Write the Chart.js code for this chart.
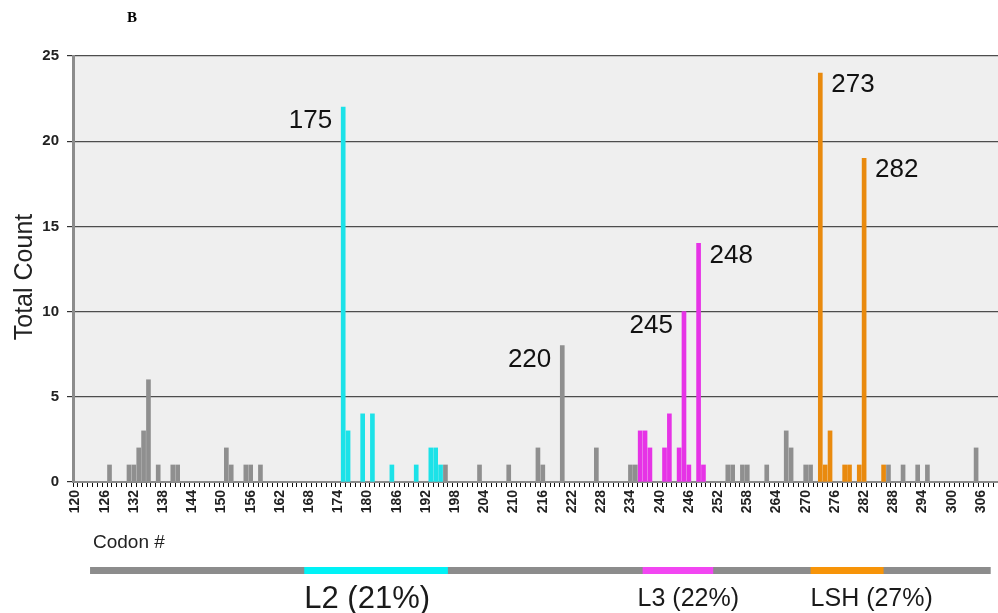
<!DOCTYPE html>
<html>
<head>
<meta charset="utf-8">
<script src="https://cdn.jsdelivr.net/npm/chart.js@4.4.0/dist/chart.umd.min.js"></script>
<style>
  html, body { margin: 0; padding: 0; background: #ffffff; }
  #wrap { width: 998px; height: 613px; position: relative; }
</style>
</head>
<body>
<div id="wrap"><canvas id="chart" width="998" height="613"></canvas></div>
<script>
// Codon range on the x axis and label step
const firstCodon = 120;
const lastCodon = 309;
const tickStep = 6;

// Mutation counts per codon, grouped by structural region
const otherCodons = [127, 131, 132, 133, 134, 135, 137, 140, 141, 151, 152, 155, 156, 158, 196, 203, 209, 215, 216, 220, 227, 234, 235, 254, 255, 257, 258, 262, 266, 267, 270, 271, 287, 290, 293, 295, 305];
const otherCounts = [1, 1, 1, 2, 3, 6, 1, 1, 1, 2, 1, 1, 1, 1, 1, 1, 1, 2, 1, 8, 2, 1, 1, 1, 1, 1, 1, 1, 3, 2, 1, 1, 1, 1, 1, 1, 2];

const l2Codons = [175, 176, 179, 181, 185, 190, 193, 194, 195];
const l2Counts = [22, 3, 4, 4, 1, 1, 2, 2, 1];

const l3Codons = [236, 237, 238, 241, 242, 244, 245, 246, 248, 249];
const l3Counts = [3, 3, 2, 2, 4, 2, 10, 1, 14, 1];

const lshCodons = [273, 274, 275, 278, 279, 281, 282, 286];
const lshCounts = [24, 1, 3, 1, 1, 1, 19, 1];

// Hotspot codons annotated on the plot, and which side the number sits on
const labeledCodons = [175, 220, 245, 248, 273, 282];
const labelSides = ['left', 'left', 'left', 'right', 'right', 'right'];

// Domain map drawn under the axis
const spanStart = 123;
const spanEnd = 308;
const regionNames = ['L2 (21%)', 'L3 (22%)', 'LSH (27%)'];
const regionStarts = [167, 236.5, 271];
const regionEnds = [196.5, 251, 286];
const regionFontSizes = [31, 25, 25];

const yMax = 25;
const yStep = 5;

const colors = {
  other: '#8f8f8f',
  l2: '#1ce2e8',
  l3: '#e633e6',
  lsh: '#e98a0e',
  span: '#8c8c8c',
  l2Band: '#00f2f6',
  l3Band: '#f246f2',
  lshBand: '#f79408'
};
const regionColors = [colors.l2Band, colors.l3Band, colors.lshBand];

const categories = [];
for (let c = firstCodon; c <= lastCodon; c++) categories.push(String(c));

function toSeries(codons, counts) {
  const arr = categories.map(() => null);
  codons.forEach((c, i) => { arr[c - firstCodon] = counts[i]; });
  return arr;
}

const sansFamily = "'Liberation Sans', Arial, Helvetica, sans-serif";

function barDataset(label, codons, counts, color) {
  return {
    label: label,
    data: toSeries(codons, counts),
    backgroundColor: color,
    borderWidth: 0,
    barThickness: 4,
    grouped: false
  };
}

const decorPlugin = {
  id: 'decor',
  beforeDraw(chart) {
    const { ctx, chartArea } = chart;
    ctx.save();
    ctx.fillStyle = '#efefef';
    ctx.fillRect(chartArea.left, chartArea.top, chartArea.right - chartArea.left, chartArea.bottom - chartArea.top);
    ctx.restore();
  },
  afterDraw(chart) {
    const { ctx } = chart;
    const xs = chart.scales.x;
    const px = (codon) => xs.getPixelForValue(codon - firstCodon);

    ctx.save();
    // Hotspot codon numbers beside their bars
    ctx.font = '26px ' + sansFamily;
    ctx.fillStyle = '#111111';
    ctx.textBaseline = 'middle';
    labeledCodons.forEach((codon, i) => {
      const idx = codon - firstCodon;
      let el = null;
      chart.data.datasets.forEach((ds, di) => {
        if (ds.data[idx] !== null) el = chart.getDatasetMeta(di).data[idx];
      });
      if (!el) return;
      if (labelSides[i] === 'left') {
        ctx.textAlign = 'right';
        ctx.fillText(String(codon), el.x - 11, el.y + 14);
      } else {
        ctx.textAlign = 'left';
        ctx.fillText(String(codon), el.x + 11, el.y + 12);
      }
    });

    // Axis captions
    ctx.textAlign = 'left';
    ctx.font = '19px ' + sansFamily;
    ctx.fillStyle = '#222222';
    ctx.fillText('Codon #', 93, 543);

    ctx.save();
    ctx.translate(25, 277);
    ctx.rotate(-Math.PI / 2);
    ctx.textAlign = 'center';
    ctx.font = '25px ' + sansFamily;
    ctx.fillText('Total Count', 0, 0);
    ctx.restore();

    // Panel letter
    ctx.font = "bold 15px 'Liberation Serif', 'Times New Roman', serif";
    ctx.fillStyle = '#000000';
    ctx.textAlign = 'left';
    ctx.fillText('B', 127, 18);

    // Domain map
    const bandY = 567;
    const bandH = 7;
    ctx.fillStyle = colors.span;
    ctx.fillRect(px(spanStart), bandY, px(spanEnd) - px(spanStart), bandH);
    regionNames.forEach((name, i) => {
      const x0 = px(regionStarts[i]);
      const x1 = px(regionEnds[i]);
      ctx.fillStyle = regionColors[i];
      ctx.fillRect(x0, bandY, x1 - x0, bandH);
      ctx.fillStyle = '#1a1a1a';
      ctx.font = regionFontSizes[i] + 'px ' + sansFamily;
      ctx.textAlign = 'left';
      ctx.fillText(name, i === 1 ? x0 - 5 : x0, 599);
    });
    ctx.restore();
  }
};

new Chart(document.getElementById('chart'), {
  type: 'bar',
  data: {
    labels: categories,
    datasets: [
      barDataset('Other', otherCodons, otherCounts, colors.other),
      barDataset('L2', l2Codons, l2Counts, colors.l2),
      barDataset('L3', l3Codons, l3Counts, colors.l3),
      barDataset('LSH', lshCodons, lshCounts, colors.lsh)
    ]
  },
  options: {
    responsive: false,
    animation: false,
    devicePixelRatio: 1,
    layout: { padding: { top: 56, right: 0, bottom: 0, left: 0 } },
    plugins: {
      legend: { display: false },
      tooltip: { enabled: false }
    },
    scales: {
      x: {
        type: 'category',
        offset: true,
        grid: {
          offset: true,
          drawOnChartArea: false,
          drawTicks: true,
          tickLength: 5,
          tickColor: '#111111',
          lineWidth: 1
        },
        border: { display: true, color: '#8a8a8a', width: 2 },
        ticks: {
          autoSkip: false,
          maxRotation: 90,
          minRotation: 90,
          padding: 3,
          color: '#222222',
          font: { family: sansFamily, size: 14, weight: 'bold' },
          callback: (value, index) => ((index % tickStep) === 0 ? categories[index] : '')
        },
        afterFit: (scale) => {
          scale.height = 131;
          scale.paddingLeft = 0;
          scale.paddingRight = 0;
        }
      },
      y: {
        min: 0,
        max: yMax,
        grid: {
          color: '#4d4d4d',
          lineWidth: 1.2,
          drawTicks: true,
          tickLength: 6,
          tickColor: '#333333'
        },
        border: { display: true, color: '#8c8c8c', width: 3 },
        ticks: {
          stepSize: yStep,
          padding: 8,
          color: '#222222',
          font: { family: sansFamily, size: 15, weight: 'bold' }
        },
        afterFit: (scale) => { scale.width = 73; }
      }
    }
  },
  plugins: [decorPlugin]
});
</script>
</body>
</html>
